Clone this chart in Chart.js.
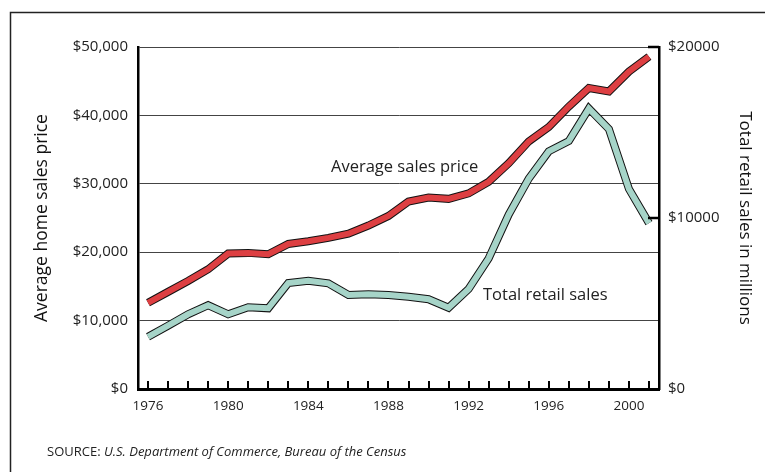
<!DOCTYPE html>
<html>
<head>
<meta charset="utf-8">
<script src="https://cdn.jsdelivr.net/npm/chart.js@4"></script>
<style>
  html, body { margin: 0; padding: 0; background: #fff; }
  #chart { display: block; }
</style>
</head>
<body>
<canvas id="chart" width="765" height="472"></canvas>
<script>
// data
var years = ['1976','1977','1978','1979','1980','1981','1982','1983','1984','1985','1986','1987','1988',
             '1989','1990','1991','1992','1993','1994','1995','1996','1997','1998','1999','2000','2001'];
var avgPrice = [12600, 14200, 15800, 17500, 19800, 19900, 19700, 21200, 21600, 22100, 22700, 23900, 25300,
                27400, 28000, 27800, 28600, 30300, 33000, 36200, 38300, 41300, 44000, 43500, 46400, 48600];
var retailSales = [3050, 3700, 4370, 4900, 4370, 4780, 4720, 6200, 6330, 6180, 5500, 5540, 5500,
                   5400, 5250, 4750, 5850, 7640, 10200, 12300, 13900, 14500, 16400, 15200, 11700, 9700];
var leftTicks = [0, 10000, 20000, 30000, 40000, 50000];
var rightTicks = [0, 10000, 20000];

var FONT = "'Open Sans', 'DejaVu Sans', sans-serif";

// ticks, labels, frame
var extras = {
    id: 'extras',
    afterDraw: function (chart) {
        var ctx = chart.ctx;
        var x = chart.scales.x, yR = chart.scales.yR;
        var area = chart.chartArea;
        ctx.save();
        ctx.strokeStyle = '#000';
        ctx.lineWidth = 2;
        // year tick marks pointing up
        for (var i = 0; i < years.length; i++) {
            var px = Math.round(x.getPixelForValue(i));
            ctx.beginPath();
            ctx.moveTo(px, area.bottom);
            ctx.lineTo(px, area.bottom - 8);
            ctx.stroke();
        }
        // right axis ticks pointing in
        ctx.lineWidth = 2.5;
        rightTicks.forEach(function (v) {
            if (v === 0) return;
            var py = Math.round(yR.getPixelForValue(v));
            ctx.beginPath();
            ctx.moveTo(area.right, py);
            ctx.lineTo(area.right - 11, py);
            ctx.stroke();
        });
        // outer frame, top and left only
        ctx.lineWidth = 1.5;
        ctx.strokeStyle = '#222';
        ctx.beginPath();
        ctx.moveTo(765, 12.5);
        ctx.lineTo(10.5, 12.5);
        ctx.lineTo(10.5, 472);
        ctx.stroke();
        // series labels
        ctx.fillStyle = '#222';
        ctx.textBaseline = 'middle';
        ctx.textAlign = 'left';
        ctx.font = '16.5px ' + FONT;
        ctx.fillText('Average sales price', 331, 167);
        ctx.fillText('Total retail sales', 483, 295);
        // source line
        ctx.font = '13px ' + FONT;
        ctx.fillText('SOURCE: ', 47, 452);
        var w = ctx.measureText('SOURCE: ').width;
        ctx.font = 'italic 13px ' + FONT;
        ctx.fillText('U.S. Department of Commerce, Bureau of the Census', 47 + w, 452);
        ctx.restore();
    }
};

function lineSet(data, color, width, axis, order) {
    return {
        data: data,
        yAxisID: axis,
        borderColor: color,
        borderWidth: width,
        borderCapStyle: 'butt',
        borderJoinStyle: 'miter',
        pointRadius: 0,
        tension: 0,
        fill: false,
        order: order
    };
}

var ctx = document.getElementById('chart').getContext('2d');
var chart = new Chart(ctx, {
    type: 'line',
    data: {
        labels: years,
        datasets: [
            lineSet(avgPrice, '#dd3f42', 6, 'yL', 1),
            lineSet(avgPrice, '#111', 8, 'yL', 2),
            lineSet(retailSales, '#a6d4c8', 6, 'yR', 3),
            lineSet(retailSales, '#111', 8, 'yR', 4)
        ]
    },
    plugins: [extras],
    options: {
        responsive: false,
        animation: false,
        events: [],
        layout: { padding: { top: 47, left: 0, right: 0, bottom: 0 } },
        plugins: { legend: { display: false }, tooltip: { enabled: false } },
        scales: {
            x: {
                type: 'category',
                offset: true,
                afterFit: function (s) { s.height = 83; },
                grid: { display: true, drawOnChartArea: false, drawTicks: false },
                border: { display: true, color: '#000', width: 3 },
                ticks: {
                    autoSkip: false,
                    maxRotation: 0,
                    padding: 9,
                    color: '#222',
                    font: { family: FONT, size: 13.5 },
                    callback: function (v, i) { return (i % 4 === 0) ? years[i] : ''; }
                }
            },
            yL: {
                position: 'left',
                min: 0,
                max: 50000,
                afterFit: function (s) { s.width = 138; },
                afterBuildTicks: function (s) { s.ticks = leftTicks.map(function (v) { return { value: v }; }); },
                grid: { color: '#444', lineWidth: 1, drawTicks: false },
                border: { display: true, color: '#000', width: 2.5 },
                ticks: {
                    padding: 10,
                    color: '#222',
                    font: { family: FONT, size: 15 },
                    callback: function (v) { return '$' + v.toLocaleString('en-US'); }
                },
                title: {
                    display: true,
                    text: 'Average home sales price',
                    color: '#111',
                    font: { family: FONT, size: 17.5 },
                    padding: { top: 32, bottom: 0 }
                }
            },
            yR: {
                position: 'right',
                min: 0,
                max: 20000,
                afterFit: function (s) { s.width = 106; },
                afterBuildTicks: function (s) { s.ticks = rightTicks.map(function (v) { return { value: v }; }); },
                grid: { drawOnChartArea: false, drawTicks: false },
                border: { display: true, color: '#000', width: 2.5 },
                ticks: {
                    padding: 9,
                    color: '#222',
                    font: { family: FONT, size: 15 },
                    callback: function (v) { return '$' + v; }
                },
                title: {
                    display: true,
                    text: 'Total retail sales in millions',
                    color: '#111',
                    font: { family: FONT, size: 17 },
                    padding: { top: 10, bottom: 0 }
                }
            }
        }
    }
});
</script>
</body>
</html>
